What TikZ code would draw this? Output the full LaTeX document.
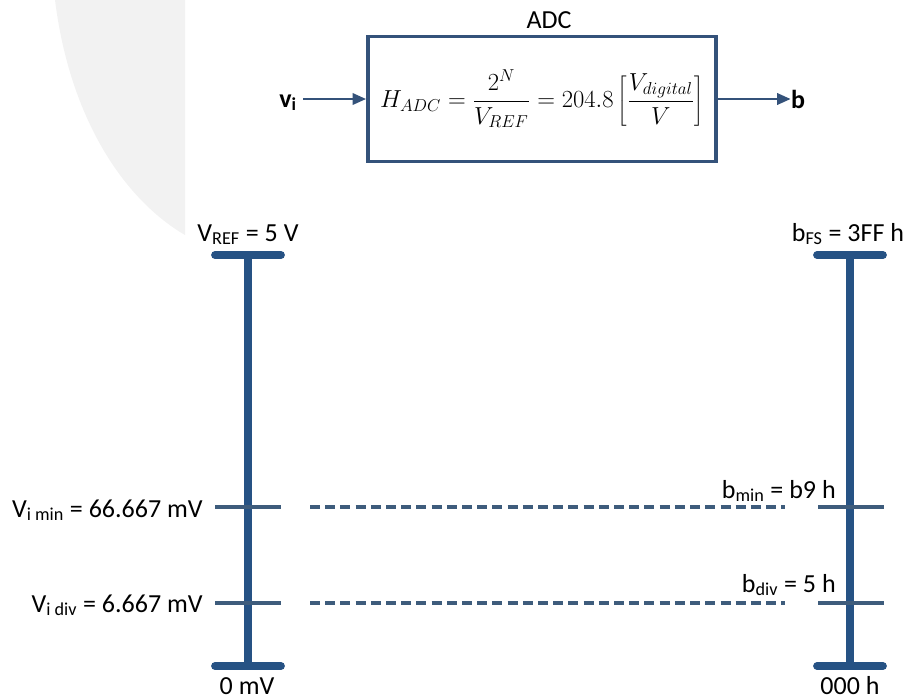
\RequirePackage{fix-cm}
\documentclass[tikz,border=0pt]{standalone}
\usepackage{fontspec}
\setmainfont{Carlito}
\usetikzlibrary{arrows.meta,positioning}
\definecolor{axisblue}{RGB}{38,82,132}
\definecolor{tickblue}{RGB}{62,92,124}
\definecolor{boxblue}{RGB}{52,82,122}
\begin{document}
\begin{tikzpicture}[x=0.025cm, y=-0.025cm, >={Triangle[length=0.34cm,width=0.28cm]},
	lbl/.style={font=\fontsize{18.5}{22}\selectfont, inner sep=0pt},
	flow/.style={->, boxblue, line width=2pt},
	axis/.style={axisblue, line width=5pt},
	axcap/.style={axisblue, line width=5.5pt, line cap=round},
	tickline/.style={tickblue, line width=2.6pt},
	guide/.style={tickblue, line width=2.4pt, dash pattern=on 0.25cm off 0.13cm}]
	\useasboundingbox (0,0) rectangle (909,699);
	% faint watermark behind the figure
	\fill[black!5] (55,0) .. controls (70,120) and (125,200) .. (185,235) -- (185,0) -- cycle;
	% ADC block
	\node[draw=boxblue, line width=2.5pt, minimum width=8.7cm, minimum height=3.12cm, inner sep=0pt] (adc) at (542,99)
		{\fontsize{17.5}{21}\selectfont $\displaystyle H_{ADC}=\frac{2^N}{V_{REF}}=204.8\left[\frac{V_{digital}}{V}\right]$};
	\node[lbl, anchor=base] (adcname) at (549,28) {ADC};
	\node[lbl, anchor=base] (vin) at (288,107) {\textbf{v}\textsubscript{\textbf{i}}};
	\node[lbl, anchor=base] (bout) at (798,108) {\textbf{b}};
	\draw[flow] (303,99) -- (adc.west);
	\draw[flow] (adc.east) -- (bout.west |- adc.east);
	% the two scales
	\foreach \x in {248, 850} {
		\draw[axis] (\x,255) -- (\x,666);
		\draw[axcap] (\x-33,255) -- (\x+33,255);
		\draw[axcap] (\x-33,666) -- (\x+33,666);
	}
	\foreach \y in {507, 603} {
		\draw[tickline] (215,\y) -- (281,\y);
		\draw[tickline] (818,\y) -- (884,\y);
		\draw[guide] (310,\y) -- (785,\y);
	}
	% labels
	\node[lbl, anchor=base] (vref) at (248,241) {V\textsubscript{REF} = 5 V};
	\node[lbl, anchor=base] (bfs) at (848,241) {b\textsubscript{FS} = 3FF h};
	\node[lbl, anchor=base east] (vimin) at (203,517) {V\textsubscript{i min} = 66.667 mV};
	\node[lbl, anchor=base east] (vidiv) at (203,612) {V\textsubscript{i div} = 6.667 mV};
	\node[lbl, anchor=base east] (bmin) at (836,498) {b\textsubscript{min} = b9 h};
	\node[lbl, anchor=base east] (bdiv) at (836,592) {b\textsubscript{div} = 5 h};
	\node[lbl, anchor=base] (vzero) at (247,694) {0 mV};
	\node[lbl, anchor=base] (bzero) at (850,694) {000 h};
\end{tikzpicture}
\end{document}
